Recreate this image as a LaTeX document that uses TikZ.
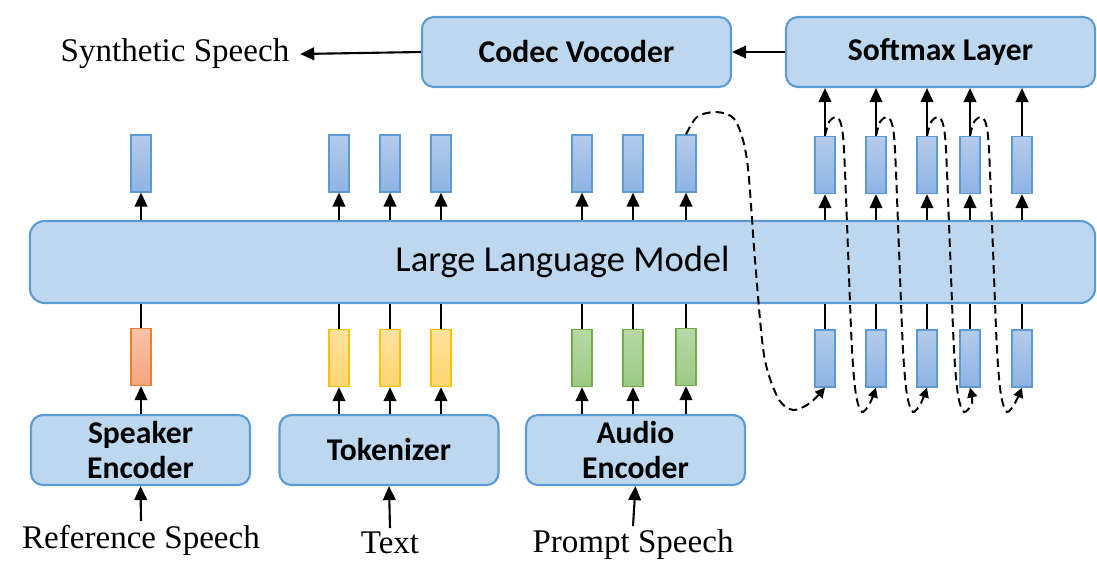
\documentclass[tikz,border=0pt]{standalone}
\usepackage{fontspec}
\setmainfont{Liberation Serif}
\newfontfamily\boxfont{Carlito}
\usetikzlibrary{arrows.meta,shapes}

\definecolor{boxfill}{HTML}{BDD7EE}
\definecolor{boxline}{HTML}{5B9BD5}
\definecolor{bluetop}{HTML}{B4CBEA}
\definecolor{bluebot}{HTML}{8EB3E3}
\definecolor{orangetop}{HTML}{F8C3A8}
\definecolor{orangebot}{HTML}{F4A57E}
\definecolor{orangeline}{HTML}{ED7D31}
\definecolor{yellowtop}{HTML}{FFE2A0}
\definecolor{yellowbot}{HTML}{FFD570}
\definecolor{yellowline}{HTML}{FFC000}
\definecolor{greentop}{HTML}{B8D8A5}
\definecolor{greenbot}{HTML}{9CC985}
\definecolor{greenline}{HTML}{70AD47}

\begin{document}
\begin{tikzpicture}[x=0.025cm, y=0.025cm, line width=1.5pt, >={Triangle[length=10pt,width=9pt]},
  box node/.style={draw=boxline, fill=boxfill, line width=1.5pt, rounded corners=0.3cm, align=center, inner sep=0pt, font={\boxfont\bfseries\fontsize{22.5}{25}\selectfont}},
  tok/.style={draw, line width=0.9pt, minimum width=0.5cm, minimum height=1.425cm, inner sep=0pt},
  blue tok/.style={tok, draw=boxline, top color=bluetop, bottom color=bluebot},
  orange tok/.style={tok, draw=orangeline, top color=orangetop, bottom color=orangebot},
  yellow tok/.style={tok, draw=yellowline, top color=yellowtop, bottom color=yellowbot},
  green tok/.style={tok, draw=greenline, top color=greentop, bottom color=greenbot},
  speech/.style={font=\fontsize{23.5}{26}\selectfont, inner sep=2pt},
  feedback/.style={->, >={Triangle[length=7pt,width=7pt]}, line width=1.4pt, dash pattern=on 6pt off 3.5pt}]
\useasboundingbox (0,0) rectangle (1097,-584);

% boxes
\node[box node, minimum width=7.725cm, minimum height=1.75cm] (codec) at (576.5,-52) {Codec Vocoder};
\node[box node, minimum width=7.725cm, minimum height=1.75cm] (soft) at (940.5,-52) {Softmax Layer};
\node[box node, minimum width=26.625cm, minimum height=2.05cm, rounded corners=0.375cm, font={\boxfont\fontsize{26}{30}\selectfont}] (llm) at (562.5,-262) {Large Language Model};
\node[box node, minimum width=5.475cm, minimum height=1.75cm] (spk) at (140.5,-450) {Speaker\\Encoder};
\node[box node, minimum width=5.475cm, minimum height=1.75cm] (tkz) at (389,-450) {Tokenizer};
\node[box node, minimum width=5.475cm, minimum height=1.75cm] (aud) at (635.5,-450) {Audio\\Encoder};

% texts
\node[speech, inner sep=7pt] (syn) at (175,-54) {Synthetic Speech};
\node[speech] (ref) at (141,-540) {Reference Speech};
\node[speech] (txt) at (390,-543) {Text};
\node[speech] (prm) at (633,-545) {Prompt Speech};

% tokens
\foreach \n/\x in {1/141,2/339,3/390,4/441,5/582,6/633,7/686}
  \node[blue tok] (t\n) at (\x,-163.5) {};
\foreach \n/\x in {1/825,2/876,3/927,4/970,5/1022} {
  \node[blue tok] (rt\n) at (\x,-165) {};
  \node[blue tok] (rb\n) at (\x,-358.5) {};
}
\node[orange tok] (b1) at (141,-357) {};
\node[yellow tok] (b2) at (339,-358) {};
\node[yellow tok] (b3) at (390,-358) {};
\node[yellow tok] (b4) at (441,-358) {};
\node[green tok] (b5) at (582,-358) {};
\node[green tok] (b6) at (633,-358) {};
\node[green tok] (b7) at (686,-357) {};

% connectors
\draw[->] (soft.west) -- (codec.east);
\draw[->] (codec.west) -- (syn.east);
\foreach \n in {1,...,7} {
  \draw[->] (t\n |- llm.north) -- (t\n.south);
  \draw (b\n.north) -- (b\n |- llm.south);
}
\foreach \n in {1,...,5} {
  \draw[->] (rt\n |- llm.north) -- (rt\n.south);
  \draw[->] (rt\n.north) -- (rt\n |- soft.south);
  \draw (rb\n.north) -- (rb\n |- llm.south);
}
\draw[->] (b1 |- spk.north) -- (b1.south);
\foreach \n in {2,3,4} \draw[->] (b\n |- tkz.north) -- (b\n.south);
\foreach \n in {5,6,7} \draw[->] (b\n |- aud.north) -- (b\n.south);
\draw[->] (ref.north) -- (spk.south);
\draw[->] (txt.north) -- (tkz.south);
\draw[->] (prm.north) -- (aud.south);

% autoregressive loops
\draw[feedback] plot[smooth] coordinates {(t7.north) (697,-117) (716,-112) (735,-120) (747,-160) (755,-260) (764,-355) (778,-398) (793,-410) (810,-403) (rb1.south)};
\foreach \a/\b/\x in {1/2/825,2/3/876,3/4/927,4/5/970}
  \draw[feedback] plot[smooth] coordinates {(rt\a.north) ({\x+4},-122) ({\x+11},-117) ({\x+16},-124) ({\x+19},-150) ({\x+23},-250) ({\x+27},-350) ({\x+31},-395) ({\x+37},-412) ({\x+45},-403) (rb\b.south)};
\end{tikzpicture}
\end{document}
